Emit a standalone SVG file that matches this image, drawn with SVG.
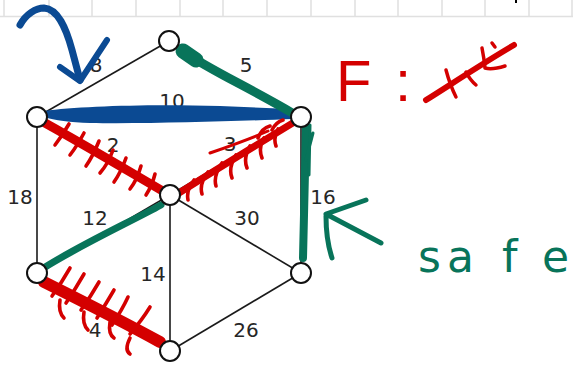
<svg xmlns="http://www.w3.org/2000/svg" width="573" height="365" viewBox="0 0 573 365">
<style>
.grid{stroke:#e0e0e0;stroke-width:1.5;fill:none}
.edge{stroke:#1a1a1a;stroke-width:1.6;fill:none}
.node{fill:#fff;stroke:#111;stroke-width:2}
.lbl{font-family:"DejaVu Sans",Verdana,sans-serif;font-size:20px;fill:#262626;text-anchor:middle}
.blue{stroke:#0b4a93;fill:none;stroke-linecap:round;stroke-linejoin:round}
.green{stroke:#08745a;fill:none;stroke-linecap:round;stroke-linejoin:round}
.red{stroke:#d40000;fill:none;stroke-linecap:round;stroke-linejoin:round}
.tick{stroke:#d40000;stroke-width:3.6;fill:none;stroke-linecap:round}
</style>
<rect width="573" height="365" fill="#fff"/>
<g id="grid">
<path class="grid" d="M0,16.5H573 M4,0V16 M49,0V16 M92,0V16 M136,0V16 M180,0V16 M223,0V16 M267,0V16 M311,0V16 M355,0V16 M398,0V16 M442,0V16 M485,0V16 M529,0V16 M572,0V16"/>
<rect x="515" y="0" width="2" height="3" fill="#000"/>
</g>
<g id="connectors">
<line class="edge" x1="169" y1="41" x2="37" y2="117"/>
<line class="edge" x1="169" y1="41" x2="301" y2="117"/>
<line class="edge" x1="37" y1="117" x2="301" y2="117"/>
<line class="edge" x1="37" y1="117" x2="170" y2="195"/>
<line class="edge" x1="301" y1="117" x2="170" y2="195"/>
<line class="edge" x1="37" y1="117" x2="37" y2="273"/>
<line class="edge" x1="301" y1="117" x2="301" y2="273"/>
<line class="edge" x1="170" y1="195" x2="37" y2="273"/>
<line class="edge" x1="170" y1="195" x2="301" y2="273"/>
<line class="edge" x1="170" y1="195" x2="170" y2="351"/>
<line class="edge" x1="37" y1="273" x2="170" y2="351"/>
<line class="edge" x1="301" y1="273" x2="170" y2="351"/>
</g>
<g id="edge-labels">
<text class="lbl" x="96" y="72">8</text>
<text class="lbl" x="246" y="72">5</text>
<text class="lbl" x="172" y="108">10</text>
<text class="lbl" x="113" y="152">2</text>
<text class="lbl" x="230" y="151">3</text>
<text class="lbl" x="20" y="204">18</text>
<text class="lbl" x="323" y="204">16</text>
<text class="lbl" x="95" y="225">12</text>
<text class="lbl" x="247" y="225">30</text>
<text class="lbl" x="153" y="281">14</text>
<text class="lbl" x="95" y="337">4</text>
<text class="lbl" x="246" y="337">26</text>
</g>
<g id="annotations-under">
<path d="M44,111 C80,106 150,104 220,106 L291,109 L293,119 C240,121 150,124 90,123 Q60,122 44,117 Z" fill="#0b4a93"/>
<path class="green" stroke-width="9" d="M184,52 C210,70 250,88 294,114"/>
<path class="green" stroke-width="15" d="M183,51 L196,60"/>
<path class="green" stroke-width="8" d="M306,127 C305,170 304,220 303,258"/>
<path class="green" stroke-width="3" d="M310,125 L309,175 M313,133 L306,160"/>
<path class="green" stroke-width="7" d="M161,205 C130,222 80,245 42,269"/>
<path class="red" stroke-width="9" d="M45,123 C90,148 130,172 166,193"/>
<path class="tick" d="M69,124 Q62,136 55,145 M84,133 Q77,146 70,155 M99,141 Q93,156 86,166 M113,150 Q108,164 100,173 M126,158 Q121,172 114,182 M141,166 Q137,180 130,189 M155,174 Q152,186 146,195"/>
<path class="red" stroke-width="7" d="M179,193 C215,170 255,146 296,121"/>
<path class="red" stroke-width="3" d="M210,153 C230,146 250,139 268,131"/>
<path class="tick" d="M194,180 Q186,190 188,200 M208,172 Q199,184 202,194 M222,163 Q213,176 216,186 M236,155 Q228,168 232,178 M250,146 Q243,158 247,168 M264,138 Q258,148 262,158 M278,129 Q273,138 276,146 M258,138 Q262,128 270,126 M272,130 Q276,122 283,120"/>
<path class="red" stroke-width="12" d="M44,282 C80,300 120,320 160,342"/>
<path class="tick" d="M70,268 Q62,282 52,296 M84,274 Q76,288 66,303 M99,282 Q91,296 81,310 M114,290 Q107,302 97,318 M128,297 Q122,310 112,325 M150,307 Q142,320 130,334 M60,300 Q58,312 64,318 M84,312 Q82,324 88,330 M110,322 Q108,334 114,338 M130,338 Q124,350 130,354"/>
</g>
<g id="nodes">
<g id="n-top"><circle class="node" cx="169" cy="41" r="10"/></g>
<g id="n-left-top"><circle class="node" cx="37" cy="117" r="10"/></g>
<g id="n-right-top"><circle class="node" cx="301" cy="117" r="10"/></g>
<g id="n-center"><circle class="node" cx="170" cy="195" r="10"/></g>
<g id="n-left-bottom"><circle class="node" cx="37" cy="273" r="10"/></g>
<g id="n-right-bottom"><circle class="node" cx="301" cy="273" r="10"/></g>
<g id="n-bottom"><circle class="node" cx="170" cy="351" r="10"/></g>
</g>
<g id="annotations-over">
<path class="blue" stroke-width="7" d="M20,25 C26,14 36,8 44,8 C58,9 66,28 72,50 L80,80"/>
<path class="blue" stroke-width="6" d="M60,67 L80,81 L107,40"/>
<path class="green" stroke-width="5" d="M381,243 L326,214 L366,200 M326,216 Q326,240 332,258"/>
<text x="418 447 502 542" y="272" font-family="DejaVu Sans, sans-serif" font-size="44" fill="#08745a">safe</text>
<text x="336" y="101" font-family="Liberation Sans, Arial, sans-serif" font-size="58" fill="#d40000">F<tspan x="395">:</tspan></text>
<path class="red" stroke-width="6" d="M426,100 C450,85 480,65 514,45"/>
<path class="red" stroke-width="3.5" d="M446,70 Q450,85 456,97 M466,72 Q470,80 476,85 M482,48 Q484,58 485,68 Q492,70 505,66 M492,43 L495,47"/>
</g>
</svg>
